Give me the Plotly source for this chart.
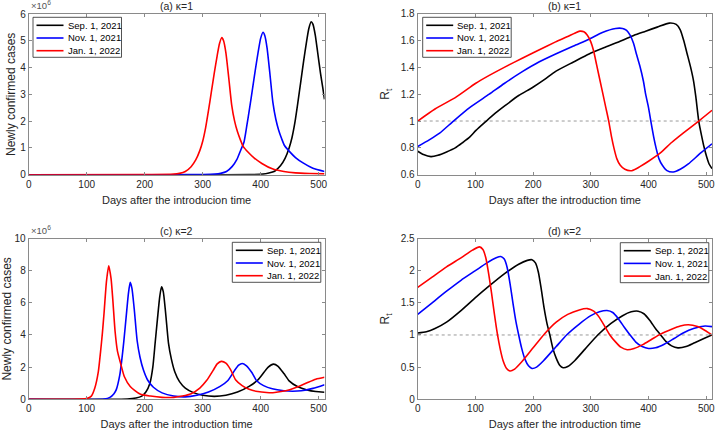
import plotly.graph_objects as go

W, H = 716, 431
FONT = "Liberation Sans, Arial, sans-serif"

series_names = ["Sep. 1, 2021", "Nov. 1, 2021", "Jan. 1, 2022"]
series_colors = ["#000000", "#0000ff", "#ff0000"]
x_ticks = [0, 100, 200, 300, 400, 500]
x_range = [0, 510]

# ---------------- Panel (a): newly confirmed cases (x10^6), kappa = 1 ----------------
a_sep_x = [0, 300, 380, 404, 414, 424, 434, 442, 449, 454, 459, 464, 469, 474, 479, 483, 487, 490, 494, 498, 503, 507, 510]
a_sep_y = [0, 0, 0.005, 0.02, 0.06, 0.13, 0.33, 0.61, 1.0, 1.39, 1.95, 2.68, 3.46, 4.24, 4.96, 5.46, 5.71, 5.62, 5.22, 4.6, 3.8, 3.25, 2.81]
a_nov_x = [0, 250, 300, 321, 331, 341, 351, 359, 366, 371, 376, 381, 386, 391, 396, 400, 404, 407, 411, 416, 421, 426, 431, 436, 441, 449, 460, 473, 490, 510]
a_nov_y = [0, 0, 0.005, 0.02, 0.05, 0.12, 0.31, 0.57, 0.94, 1.2, 1.82, 2.5, 3.22, 3.95, 4.63, 5.1, 5.32, 5.2, 4.73, 3.74, 2.7, 2.08, 1.66, 1.35, 1.09, 0.88, 0.64, 0.44, 0.24, 0.12]
a_jan_x = [0, 200, 250, 260, 270, 280, 288, 295, 300, 305, 310, 315, 320, 325, 329, 333, 336, 340, 345, 350, 355, 360, 365, 370, 378, 389, 402, 420, 440, 460, 485, 510]
a_jan_y = [0, 0.002, 0.02, 0.05, 0.12, 0.3, 0.55, 0.9, 1.25, 1.75, 2.4, 3.1, 3.8, 4.45, 4.9, 5.12, 5.0, 4.55, 3.6, 2.6, 2.0, 1.6, 1.3, 1.05, 0.85, 0.62, 0.42, 0.22, 0.12, 0.07, 0.045, 0.03]

# ---------------- Panel (b): R_t, kappa = 1 ----------------
b_sep_x = [0, 10, 23, 35, 50, 65, 78, 90, 101, 119, 135, 153, 175, 199, 220, 239, 270, 297, 325, 354, 375, 395, 415, 436, 448, 455, 461, 467, 473, 478, 482, 487, 492, 496, 501, 505, 510]
b_sep_y = [0.775, 0.75, 0.735, 0.745, 0.77, 0.8, 0.84, 0.88, 0.93, 1.0, 1.06, 1.12, 1.19, 1.25, 1.31, 1.37, 1.44, 1.5, 1.55, 1.6, 1.64, 1.67, 1.7, 1.73, 1.72, 1.68, 1.6, 1.5, 1.4, 1.3, 1.18, 1.0, 0.89, 0.81, 0.73, 0.68, 0.645]
b_nov_x = [0, 20, 38, 62, 90, 124, 150, 182, 210, 239, 270, 297, 320, 343, 355, 362, 368, 374, 379, 385, 391, 395, 400, 404, 409, 413, 418, 424, 432, 443, 455, 469, 490, 510]
b_nov_y = [0.81, 0.86, 0.91, 1.0, 1.1, 1.2, 1.28, 1.37, 1.44, 1.5, 1.56, 1.61, 1.66, 1.69, 1.69, 1.675, 1.64, 1.58, 1.5, 1.41, 1.3, 1.2, 1.1, 1.0, 0.88, 0.8, 0.72, 0.67, 0.63, 0.62, 0.64, 0.68, 0.76, 0.83]
b_jan_x = [0, 30, 67, 100, 124, 150, 182, 210, 239, 260, 272, 281, 288, 294, 300, 305, 310, 316, 321, 326, 331, 336, 340, 345, 351, 359, 371, 385, 400, 420, 440, 460, 487, 510]
b_jan_y = [1.0, 1.09, 1.18, 1.28, 1.34, 1.4, 1.47, 1.53, 1.59, 1.63, 1.655, 1.67, 1.665, 1.64, 1.59, 1.52, 1.42, 1.3, 1.2, 1.1, 1.0, 0.88, 0.8, 0.72, 0.67, 0.64, 0.63, 0.66, 0.7, 0.76, 0.84, 0.91, 1.0, 1.08]

# ---------------- Panel (c): newly confirmed cases (x10^6), kappa = 2 ----------------
c_sep_x = [0, 170, 185, 195, 202, 209, 214, 218, 222, 226, 229, 232, 236, 241, 246, 252, 260, 270, 285, 300, 320, 340, 360, 380, 395, 405, 413, 422, 430, 440, 449, 464, 480, 495, 510]
c_sep_y = [0, 0.02, 0.08, 0.2, 0.45, 1.0, 2.0, 3.5, 5.0, 6.4, 7.0, 6.7, 5.4, 3.5, 2.5, 1.7, 1.1, 0.7, 0.4, 0.25, 0.18, 0.25, 0.45, 0.8, 1.2, 1.65, 2.0, 2.19, 2.05, 1.6, 1.15, 0.78, 0.58, 0.48, 0.44]
c_nov_x = [0, 130, 140, 147, 151, 157, 160, 164, 169, 172, 175, 178, 182, 187, 192, 198, 205, 215, 230, 250, 270, 290, 310, 330, 343, 355, 362, 368, 375, 385, 393, 405, 420, 440, 455, 470, 490, 510]
c_nov_y = [0, 0.02, 0.12, 0.35, 0.6, 1.5, 2.3, 3.6, 5.5, 6.6, 7.27, 6.9, 5.6, 3.64, 2.6, 1.8, 1.2, 0.75, 0.4, 0.2, 0.15, 0.25, 0.45, 0.8, 1.15, 1.8, 2.12, 2.23, 2.1, 1.65, 1.15, 0.85, 0.65, 0.53, 0.5, 0.53, 0.68, 0.91]
c_jan_x = [0, 90, 100, 108, 114, 120, 124, 127, 130, 134, 138, 142, 145, 149, 153, 158, 165, 175, 192, 210, 230, 250, 265, 280, 295, 307, 318, 325, 332, 340, 348, 357, 368, 380, 395, 410, 421, 435, 450, 464, 480, 495, 510]
c_jan_y = [0, 0.01, 0.05, 0.2, 0.7, 1.7, 3.0, 4.1, 5.4, 7.3, 8.3, 7.5, 6.2, 4.2, 3.0, 2.3, 1.4, 0.8, 0.33, 0.2, 0.12, 0.12, 0.2, 0.35, 0.7, 1.18, 1.8, 2.2, 2.36, 2.25, 1.85, 1.2, 0.85, 0.62, 0.48, 0.42, 0.41, 0.48, 0.6, 0.78, 1.03, 1.25, 1.37]

# ---------------- Panel (d): R_t, kappa = 2 ----------------
d_sep_x = [0, 15, 30, 50, 75, 100, 125, 150, 175, 190, 198, 204, 209, 214, 219, 224, 229, 234, 240, 246, 252, 260, 272, 290, 312, 335, 355, 370, 382, 392, 402, 412, 421, 430, 440, 451, 465, 480, 495, 510]
d_sep_y = [1.03, 1.05, 1.1, 1.2, 1.38, 1.58, 1.77, 1.95, 2.1, 2.16, 2.17, 2.12, 1.98, 1.72, 1.42, 1.18, 1.0, 0.8, 0.64, 0.53, 0.49, 0.51, 0.6, 0.78, 1.0, 1.18, 1.3, 1.36, 1.37, 1.33, 1.23, 1.1, 1.0, 0.9, 0.83, 0.8, 0.82, 0.88, 0.94, 1.0]
d_nov_x = [0, 25, 50, 75, 100, 120, 136, 144, 150, 155, 160, 165, 170, 175, 180, 186, 192, 198, 206, 218, 240, 258, 280, 300, 315, 328, 338, 348, 358, 368, 378, 389, 400, 412, 428, 445, 460, 478, 498, 510]
d_nov_y = [1.32, 1.5, 1.68, 1.85, 2.0, 2.12, 2.2, 2.22, 2.18, 2.05, 1.8, 1.5, 1.22, 1.0, 0.8, 0.62, 0.52, 0.48, 0.5, 0.6, 0.82, 1.0, 1.17, 1.3, 1.36, 1.38, 1.35, 1.25, 1.12, 1.0, 0.89, 0.82, 0.79, 0.8, 0.86, 0.95, 1.03, 1.1, 1.14, 1.13]
d_jan_x = [0, 25, 50, 75, 95, 107, 113, 118, 123, 128, 133, 138, 143, 148, 154, 160, 168, 180, 200, 220, 240, 260, 280, 294, 305, 315, 325, 333, 342, 352, 363, 375, 390, 405, 420, 440, 455, 469, 485, 498, 510]
d_jan_y = [1.74, 1.9, 2.06, 2.2, 2.32, 2.37, 2.33, 2.2, 1.95, 1.65, 1.32, 1.02, 0.78, 0.6, 0.48, 0.44, 0.47, 0.58, 0.8, 1.02, 1.2, 1.32, 1.39, 1.41, 1.37, 1.27, 1.12, 1.0, 0.9, 0.81, 0.77, 0.79, 0.85, 0.93, 1.01, 1.09, 1.14, 1.16, 1.13, 1.07, 1.0]

panels = [
    dict(xs=[a_sep_x, a_nov_x, a_jan_x], ys=[a_sep_y, a_nov_y, a_jan_y],
         title="(a) κ=1", xtitle="Days after the introducion time", ytitle="Newly confirmed cases",
         yrange=[0, 6], dtick=1, exp=True, refline=False, ystand=1,
         dom_px=(28.7, 324.5, 14.0, 174.7), leg_px=(33.0, 17.3)),
    dict(xs=[b_sep_x, b_nov_x, b_jan_x], ys=[b_sep_y, b_nov_y, b_jan_y],
         title="(b) κ=1", xtitle="Days after the introduction time", ytitle="R<sub>t</sub>",
         yrange=[0.6, 1.8], dtick=0.2, exp=False, refline=True, ystand=8,
         dom_px=(417.7, 712.0, 13.7, 174.7), leg_px=(422.7, 17.3)),
    dict(xs=[c_sep_x, c_nov_x, c_jan_x], ys=[c_sep_y, c_nov_y, c_jan_y],
         title="(c) κ=2", xtitle="Days after the introduction time", ytitle="Newly confirmed cases",
         yrange=[0, 10], dtick=2, exp=True, refline=False, ystand=0,
         dom_px=(28.7, 324.5, 238.5, 399.3), leg_px=(232.3, 242.3)),
    dict(xs=[d_sep_x, d_nov_x, d_jan_x], ys=[d_sep_y, d_nov_y, d_jan_y],
         title="(d) κ=2", xtitle="Days after the introduction time", ytitle="R<sub>t</sub>",
         yrange=[0, 2.5], dtick=0.5, exp=False, refline=True, ystand=8,
         dom_px=(417.7, 712.0, 238.5, 399.3), leg_px=(620.3, 242.7)),
]

def px2x(px):
    return px / W

def px2y(py):
    return 1 - py / H

AXCOL = "#8a8a8a"
TXTCOL = "#262626"

fig = go.Figure()
layout = dict(template="none", width=W, height=H, margin=dict(l=0, r=0, t=0, b=0, pad=0),
              paper_bgcolor="white", plot_bgcolor="white", showlegend=False,
              font=dict(family=FONT, color=TXTCOL, size=10))
shapes, annotations = [], []

for i, p in enumerate(panels):
    n = "" if i == 0 else str(i + 1)
    xa, ya = "x" + n, "y" + n
    x0, x1, yt, yb = p["dom_px"]
    common = dict(showline=True, linecolor=AXCOL, linewidth=1, mirror="ticks",
                  ticks="inside", ticklen=3, tickcolor=AXCOL, tickwidth=1,
                  showgrid=False, zeroline=False, automargin=False,
                  tickfont=dict(family=FONT, size=10, color=TXTCOL))
    layout["xaxis" + n] = dict(common, domain=[px2x(x0), px2x(x1)], anchor=ya,
                               range=x_range, tickvals=x_ticks,
                               title=dict(text=p["xtitle"], standoff=7,
                                          font=dict(family=FONT, size=11, color=TXTCOL)))
    layout["yaxis" + n] = dict(common, domain=[px2y(yb), px2y(yt)], anchor=xa,
                               range=p["yrange"], dtick=p["dtick"], tick0=0,
                               title=dict(text=p["ytitle"], standoff=p["ystand"],
                                          font=dict(family=FONT, size=12, color=TXTCOL)))
    if p["refline"]:
        shapes.append(dict(type="line", xref=xa + " domain", yref=ya, x0=0, x1=1, y0=1, y1=1,
                           line=dict(color="#9a9a9a", width=1, dash="dot"), layer="below"))
    for xs, ys, name, col in zip(p["xs"], p["ys"], series_names, series_colors):
        fig.add_trace(go.Scatter(x=xs, y=ys, mode="lines", name=name, xaxis=xa, yaxis=ya,
                                 line=dict(color=col, width=1.6, shape="spline", smoothing=0.6),
                                 showlegend=False))
    annotations.append(dict(text=p["title"], xref="paper", yref="paper",
                            x=px2x((x0 + x1) / 2), y=px2y(yt), xanchor="center", yanchor="bottom",
                            showarrow=False, font=dict(family=FONT, size=10.5, color=TXTCOL)))
    if p["exp"]:
        annotations.append(dict(text="×10<sup>6</sup>", xref="paper", yref="paper",
                                x=px2x(x0), y=px2y(yt - 1), xanchor="left", yanchor="bottom",
                                showarrow=False, font=dict(family=FONT, size=9.5, color="#555555")))
    lx, ly = p["leg_px"]
    lw, lh = 88.5, 40.0
    shapes.append(dict(type="rect", xref="paper", yref="paper",
                       x0=px2x(lx), x1=px2x(lx + lw), y0=px2y(ly + lh), y1=px2y(ly),
                       line=dict(color="#262626", width=0.8), fillcolor="white", layer="above"))
    for k, (name, col) in enumerate(zip(series_names, series_colors)):
        ry = ly + 8.0 + k * 12.7
        shapes.append(dict(type="line", xref="paper", yref="paper",
                           x0=px2x(lx + 3.5), x1=px2x(lx + 30.5), y0=px2y(ry), y1=px2y(ry),
                           line=dict(color=col, width=1.6), layer="above"))
        annotations.append(dict(text=name, xref="paper", yref="paper",
                                x=px2x(lx + 32.5), y=px2y(ry), xanchor="left", yanchor="middle",
                                showarrow=False, font=dict(family=FONT, size=9.5, color="#000000")))

layout["shapes"] = shapes
layout["annotations"] = annotations
fig.update_layout(**layout)
fig.write_html("out.html", config={"displayModeBar": False},
               post_script="document.body.style.margin='0px';document.body.style.padding='0px';")
